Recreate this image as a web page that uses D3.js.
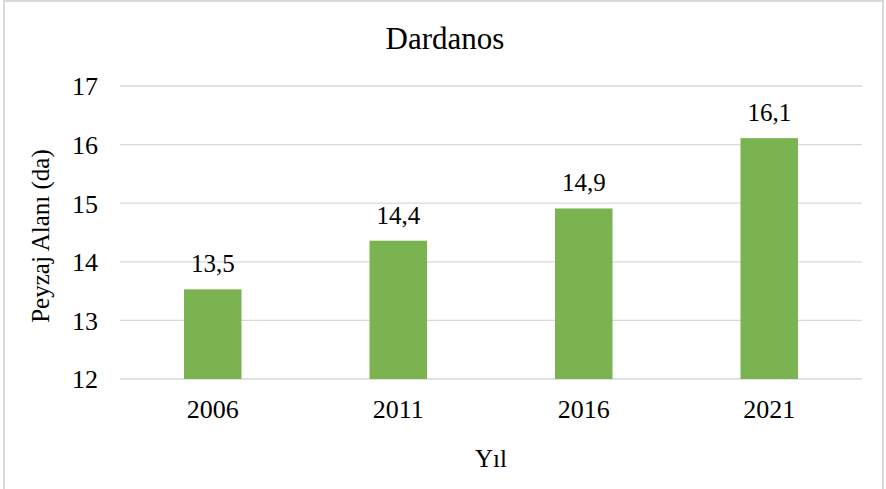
<!DOCTYPE html>
<html>
<head>
<meta charset="utf-8">
<script src="https://cdn.jsdelivr.net/npm/d3@7"></script>
<style>
  html, body { margin: 0; padding: 0; background: #fff; }
  svg { display: block; }
</style>
</head>
<body>
<svg id="chart" width="886" height="489"></svg>
<script>
const categories = ["2006", "2011", "2016", "2021"];
const values = [13.53, 14.36, 14.91, 16.11];
const yTicks = [12, 13, 14, 15, 16, 17];
const title = "Dardanos";
const xTitle = "Yıl";
const yTitle = "Peyzaj Alanı (da)";

const FONT = "'Times New Roman', 'Liberation Serif', Tinos, 'DejaVu Serif', serif";
const W = 886, H = 489;
const m = { left: 120, right: 24, top: 86, bottom: 110 };
const svg = d3.select("#chart").style("font-family", FONT);

// outer border
svg.append("rect")
  .attr("x", 4).attr("y", 1)
  .attr("width", W - 5 - 2).attr("height", H + 5)
  .attr("fill", "#fff").attr("stroke", "#d9d9d9").attr("stroke-width", 2);

const x = d3.scaleBand().domain(categories).range([m.left, W - m.right]).paddingInner(0.69).paddingOuter(0.345);
const y = d3.scaleLinear().domain([12, 17]).range([H - m.bottom, m.top]);

// gridlines
svg.append("g").selectAll("line").data(yTicks).join("line")
  .attr("x1", m.left).attr("x2", W - m.right)
  .attr("y1", d => y(d)).attr("y2", d => y(d))
  .attr("stroke", "#d9d9d9").attr("stroke-width", 1.3);

// y axis labels
const yAxis = d3.axisLeft(y).tickValues(yTicks).tickSize(0).tickPadding(22).tickFormat(d3.format("d"));
const gy = svg.append("g").attr("transform", `translate(${m.left},0)`).call(yAxis)
  .attr("font-family", null).attr("font-size", null);
gy.select(".domain").remove();
gy.selectAll("text").style("font-family", FONT).style("font-size", "26px").attr("fill", "#000").attr("dy", "0.34em");

// x axis labels
const xAxis = d3.axisBottom(x).tickSize(0).tickPadding(21);
const gx = svg.append("g").attr("transform", `translate(0,${y(12)})`).call(xAxis)
  .attr("font-family", null).attr("font-size", null);
gx.select(".domain").remove();
gx.selectAll("text").style("font-family", FONT).style("font-size", "26px").attr("fill", "#000");

// bars
svg.append("g").selectAll("rect").data(values).join("rect")
  .attr("x", (d, i) => x(categories[i]))
  .attr("width", x.bandwidth())
  .attr("y", d => y(d))
  .attr("height", d => y(12) - y(d))
  .attr("fill", "#7ab350");

// data labels
const fmt = v => d3.format(".1f")(v).replace(".", ",");
svg.append("g").selectAll("text").data(values).join("text")
  .attr("x", (d, i) => x(categories[i]) + x.bandwidth() / 2)
  .attr("y", d => y(d) - 17)
  .attr("text-anchor", "middle")
  .style("font-family", FONT).style("font-size", "25px")
  .text(d => fmt(d));

// title
svg.append("text").attr("x", 445).attr("y", 49).attr("text-anchor", "middle")
  .style("font-family", FONT).style("font-size", "31px").text(title);

// x title
svg.append("text").attr("x", (m.left + W - m.right) / 2).attr("y", 467).attr("text-anchor", "middle")
  .style("font-family", FONT).style("font-size", "25px").text(xTitle);

// y title
svg.append("text").attr("transform", `translate(49,236) rotate(-90)`).attr("text-anchor", "middle")
  .style("font-family", FONT).style("font-size", "25px").text(yTitle);
</script>
</body>
</html>
